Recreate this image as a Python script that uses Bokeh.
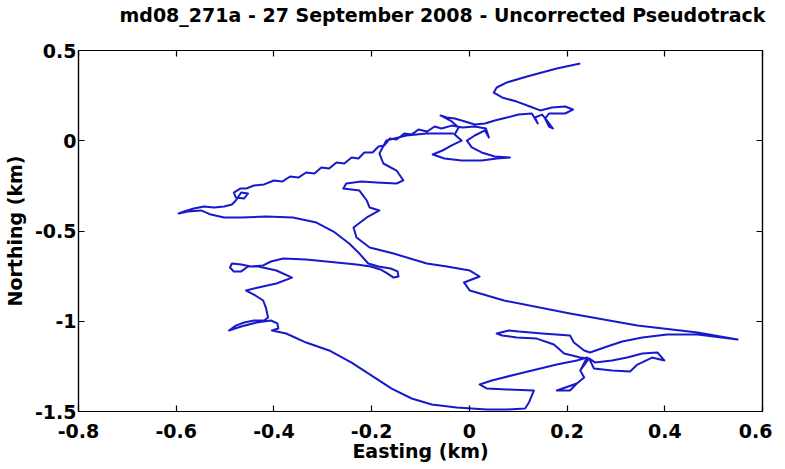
from bokeh.plotting import figure
from bokeh.models import LinearAxis, FixedTicker, CustomJSTickFormatter, Range1d, ColumnDataSource
from bokeh.embed import file_html
from bokeh.resources import INLINE

title_text = "md08_271a - 27 September 2008 - Uncorrected Pseudotrack"
x_label = "Easting (km)"
y_label = "Northing (km)"
x_ticks = [-0.8, -0.6, -0.4, -0.2, 0, 0.2, 0.4, 0.6]
y_ticks = [-1.5, -1, -0.5, 0, 0.5]

# pseudotrack, km
easting = [
    0.227, 0.179, 0.118, 0.077, 0.056, 0.050, 0.067, 0.097, 0.124, 0.145,
    0.169, 0.196, 0.212, 0.196, 0.163, 0.155, 0.163, 0.171, 0.159, 0.149,
    0.134, 0.140, 0.128,
    0.101, 0.077, 0.052, 0.032, 0.011, -0.009, -0.030, -0.046, -0.059, -0.036,
    -0.022, -0.030, -0.016, -0.036, -0.055, -0.075,
    -0.051, -0.016, 0.025, 0.056, 0.083, 0.052, 0.025, 0.005, -0.005, 0.011,
    0.032, 0.040, 0.034, 0.011, -0.014,
    -0.036, -0.057, -0.071, -0.087, -0.104, -0.118, -0.133, -0.149, -0.163, -0.174,
    -0.186, -0.198, -0.215, -0.227, -0.241, -0.256, -0.272, -0.287, -0.303, -0.317,
    -0.334, -0.350, -0.367, -0.383, -0.400, -0.420, -0.441, -0.457,
    -0.469, -0.482, -0.478, -0.461, -0.453, -0.467, -0.478, -0.486, -0.502, -0.523,
    -0.543, -0.564, -0.584, -0.595,
    -0.576, -0.549, -0.529, -0.502, -0.467, -0.416, -0.361, -0.313, -0.278, -0.246,
    -0.225, -0.207,
    -0.186, -0.161, -0.147, -0.145, -0.155, -0.168, -0.182, -0.202, -0.231, -0.272,
    -0.334, -0.381, -0.406, -0.422, -0.447, -0.467, -0.486, -0.490, -0.482, -0.467,
    -0.453, -0.432, -0.395, -0.363, -0.395, -0.432, -0.457, -0.441, -0.422, -0.416,
    -0.412, -0.420, -0.441, -0.461, -0.478, -0.492, -0.467, -0.436, -0.406, -0.393,
    -0.391, -0.404, -0.375, -0.334, -0.287, -0.241, -0.200, -0.159, -0.118, -0.077,
    -0.026, 0.036, 0.077, 0.114, 0.122, 0.128, 0.132, 0.077, 0.036, 0.021,
    0.046, 0.103, 0.179, 0.220, 0.241, 0.227, 0.235, 0.220, 0.206, 0.179,
    0.220, 0.235, 0.227, 0.245,
    0.255, 0.292, 0.329, 0.344, 0.374, 0.399, 0.385, 0.354, 0.323, 0.292,
    0.257, 0.245,
    0.227, 0.194, 0.173, 0.138, 0.097, 0.067, 0.056, 0.081, 0.101, 0.149,
    0.206, 0.214, 0.235, 0.247,
    0.282, 0.313, 0.354, 0.405, 0.467, 0.549,
    0.467, 0.344, 0.206, 0.071, 0.001, -0.011, 0.021, 0.001, -0.046, -0.087,
    -0.155, -0.204, -0.231, -0.237, -0.210, -0.184, -0.204, -0.210, -0.225, -0.258,
    -0.252, -0.221, -0.190, -0.149, -0.135, -0.149, -0.176, -0.184, -0.170, -0.129,
    -0.087, -0.032,
]
northing = [
    0.428, 0.400, 0.356, 0.323, 0.295, 0.267, 0.240, 0.217, 0.190, 0.168,
    0.184, 0.190, 0.173, 0.151, 0.151, 0.123, 0.079, 0.068, 0.112, 0.145,
    0.129, 0.096, 0.151,
    0.145, 0.129, 0.112, 0.096, 0.090, 0.107, 0.123, 0.129, 0.140, 0.107,
    0.073, 0.035, 0.001, -0.026, -0.054, -0.076,
    -0.098, -0.109, -0.109, -0.098, -0.093, -0.087, -0.065, -0.037, 0.001, 0.029,
    0.057, 0.018, 0.068, 0.079, 0.073,
    0.084, 0.068, 0.079, 0.051, 0.062, 0.035, 0.040, 0.007, 0.012, -0.026,
    -0.032, -0.065, -0.065, -0.098, -0.093, -0.126, -0.120, -0.154, -0.148, -0.181,
    -0.176, -0.204, -0.198, -0.226, -0.220, -0.242, -0.248, -0.265,
    -0.265, -0.287, -0.314, -0.320, -0.292, -0.287, -0.331, -0.353, -0.364, -0.370,
    -0.364, -0.375, -0.392, -0.403,
    -0.392, -0.386, -0.409, -0.425, -0.425, -0.420, -0.425, -0.453, -0.503, -0.569,
    -0.625, -0.680,
    -0.697, -0.708, -0.724, -0.752, -0.758, -0.735, -0.713, -0.697, -0.686, -0.674,
    -0.658, -0.652, -0.669, -0.691, -0.697, -0.686, -0.680, -0.702, -0.724, -0.724,
    -0.697, -0.697, -0.719, -0.758, -0.791, -0.813, -0.830, -0.852, -0.885, -0.929,
    -0.979, -0.996, -0.996, -1.007, -1.024, -1.051, -1.029, -1.007, -0.996, -1.012,
    -1.040, -1.051, -1.068, -1.118, -1.162, -1.229, -1.301, -1.373, -1.428, -1.461,
    -1.478, -1.489, -1.489, -1.483, -1.450, -1.411, -1.384, -1.378, -1.373, -1.350,
    -1.328, -1.289, -1.240, -1.217, -1.201, -1.273, -1.312, -1.345, -1.384, -1.384,
    -1.345, -1.312, -1.273, -1.206,
    -1.262, -1.273, -1.278, -1.240, -1.201, -1.217, -1.173, -1.179, -1.201, -1.217,
    -1.228, -1.206,
    -1.201, -1.179, -1.129, -1.096, -1.090, -1.079, -1.068, -1.051, -1.057, -1.068,
    -1.079, -1.118, -1.162, -1.173,
    -1.140, -1.112, -1.090, -1.073, -1.073, -1.101,
    -1.062, -1.024, -0.957, -0.885, -0.830, -0.785, -0.752, -0.719, -0.697, -0.680,
    -0.625, -0.591, -0.536, -0.481, -0.425, -0.386, -0.370, -0.331, -0.276, -0.265,
    -0.237, -0.226, -0.231, -0.237, -0.220, -0.165, -0.126, -0.071, 0.001, 0.029,
    0.040, 0.040,
]

FONT = "DejaVu Sans"

p = figure(frame_width=684, frame_height=361, output_backend="svg", toolbar_location=None,
           x_range=Range1d(-0.8, 0.6), y_range=Range1d(-1.5, 0.5),
           x_axis_label=x_label, y_axis_label=y_label,
           min_border_left=75, min_border_right=10, min_border_top=50, min_border_bottom=10)

src = ColumnDataSource(data=dict(x=easting, y=northing))
p.line("x", "y", source=src, line_color="#1818cc", line_width=2, line_join="round")

fmt = CustomJSTickFormatter(code="return String(Math.round(tick*10)/10);")

p.xgrid.visible = False
p.ygrid.visible = False
p.background_fill_color = "white"
p.border_fill_color = "white"
p.outline_line_color = "black"
p.outline_line_width = 1.2

for ax, ticks in ((p.xaxis[0], x_ticks), (p.yaxis[0], y_ticks)):
    ax.ticker = FixedTicker(ticks=ticks)
    ax.formatter = fmt
    ax.major_tick_in = 6
    ax.major_tick_out = 0
    ax.minor_tick_in = 0
    ax.minor_tick_out = 0
    ax.axis_line_color = "black"
    ax.axis_line_width = 1.2
    ax.major_tick_line_color = "black"
    ax.major_tick_line_width = 1.2
    ax.major_label_text_font = FONT
    ax.major_label_text_font_style = "bold"
    ax.major_label_text_font_size = "19px"
    ax.major_label_text_color = "black"
    ax.axis_label_text_font = FONT
    ax.axis_label_text_font_style = "bold"
    ax.axis_label_text_font_size = "19px"
    ax.axis_label_text_color = "black"

p.xaxis[0].major_label_standoff = 12
p.xaxis[0].axis_label_standoff = -1
p.yaxis[0].major_label_standoff = 2
p.yaxis[0].axis_label_standoff = 6

# box ticks on the top and right edges (MATLAB "box on" style)
for ticks, loc in ((x_ticks, "above"), (y_ticks, "right")):
    ax = LinearAxis(ticker=FixedTicker(ticks=ticks), formatter=fmt,
                    major_tick_in=6, major_tick_out=0, minor_tick_in=0, minor_tick_out=0,
                    major_label_text_font_size="1px", major_label_text_color=None,
                    major_label_standoff=0,
                    axis_line_color="black", axis_line_width=1.2,
                    major_tick_line_color="black", major_tick_line_width=1.2)
    p.add_layout(ax, loc)

# white spacer above the frame so the title sits at the top edge
spacer = LinearAxis(ticker=FixedTicker(ticks=[x_ticks[0]]), formatter=fmt,
                    major_tick_in=0, major_tick_out=24, minor_tick_in=0, minor_tick_out=0,
                    major_label_text_font_size="1px", major_label_text_color=None,
                    major_label_standoff=0, axis_line_color=None,
                    major_tick_line_color="white", major_tick_line_width=1,
                    minor_tick_line_color=None)
p.add_layout(spacer, "above")

p.title.text = title_text
p.title.text_font = FONT
p.title.text_font_style = "bold"
p.title.text_font_size = "19px"
p.title.text_color = "black"
p.title.align = "left"
p.title.offset = 41
p.title.standoff = 2

open("out.html", "w").write(file_html(p, INLINE))
